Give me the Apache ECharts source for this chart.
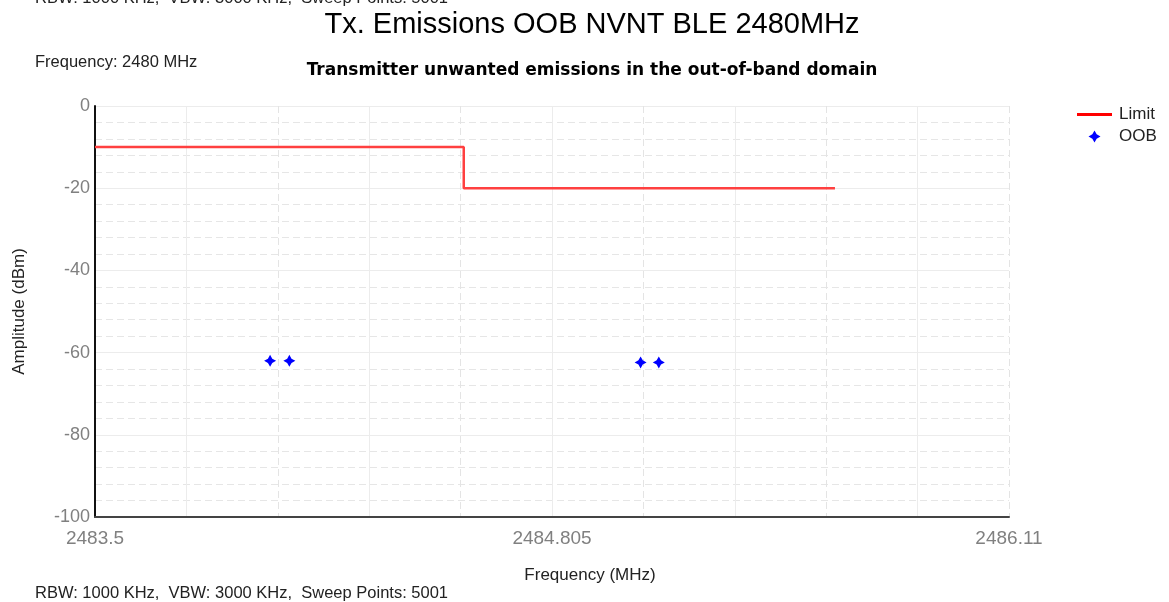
<!DOCTYPE html>
<html>
<head>
<meta charset="utf-8">
<script src="https://cdn.jsdelivr.net/npm/echarts@6/dist/echarts.min.js"></script>
<style>
html,body{margin:0;padding:0;background:#fff;}
#chart{width:1169px;height:602px;}
</style>
</head>
<body>
<div id="chart"></div>
<script>
// ---- data ----
var xStart = 2483.5;           // MHz, left end of the axis
var xEnd = 2486.11;            // MHz, right end of the axis
var xTickLabels = [2483.5, 2484.805, 2486.11];
var yTickLabels = [0, -20, -40, -60, -80, -100];

var limitFreq = [2483.5, 2484.553, 2484.553, 2485.613];
var limitValue = [-10, -10, -20, -20];

var oobFreq = [2484.000, 2484.055, 2485.058, 2485.110];
var oobValue = [-62.0, -62.0, -62.4, -62.4];

// ---- build ----
var span = +(xEnd - xStart).toFixed(3);      // 2.61
var limitData = limitFreq.map(function (f, i) { return [+(f - xStart).toFixed(4), limitValue[i]]; });
var oobData = oobFreq.map(function (f, i) { return [+(f - xStart).toFixed(4), oobValue[i]]; });

var FONT = 'Liberation Sans, Arial, sans-serif';
var star = 'path://M0,-10 L3.6,-3.6 L10,0 L3.6,3.6 L0,10 L-3.6,3.6 L-10,0 L-3.6,-3.6 Z';
var lineIcon = 'path://M0,0 L35,0 L35,3 L0,3 Z';

var chart = echarts.init(document.getElementById('chart'), null, { renderer: 'canvas' });
var option = {
  backgroundColor: '#ffffff',
  animation: false,
  grid: { left: 95, top: 106, width: 914, height: 411, containLabel: false },
  graphic: [
    { type: 'text', x: 35, y: -2, style: { text: 'RBW: 1000 KHz,  VBW: 3000 KHz,  Sweep Points: 5001', font: '16.5px ' + FONT, fill: '#222', textAlign: 'left', textVerticalAlign: 'middle' } },
    { type: 'text', x: 592, y: 25, style: { text: 'Tx. Emissions OOB NVNT BLE 2480MHz', font: '29px ' + FONT, fill: '#000', textAlign: 'center', textVerticalAlign: 'middle' } },
    { type: 'text', x: 35, y: 62, style: { text: 'Frequency: 2480 MHz', font: '16.5px ' + FONT, fill: '#222', textAlign: 'left', textVerticalAlign: 'middle' } },
    { type: 'text', x: 592, y: 71, style: { text: 'Transmitter unwanted emissions in the out-of-band domain', font: 'bold 17px DejaVu Sans, Verdana, sans-serif', fill: '#000', textAlign: 'center', textVerticalAlign: 'middle' } },
    { type: 'text', x: 590, y: 575, style: { text: 'Frequency (MHz)', font: '17px ' + FONT, fill: '#222', textAlign: 'center', textVerticalAlign: 'middle' } },
    { type: 'text', x: 35, y: 593, style: { text: 'RBW: 1000 KHz,  VBW: 3000 KHz,  Sweep Points: 5001', font: '16.5px ' + FONT, fill: '#222', textAlign: 'left', textVerticalAlign: 'middle' } }
  ],
  legend: {
    orient: 'vertical',
    left: 1077,
    top: 106,
    padding: 0,
    itemWidth: 35,
    itemHeight: 12,
    itemGap: 5,
    symbolKeepAspect: true,
    textStyle: { fontSize: 17, fontFamily: FONT, color: '#222', padding: [0, 0, 0, 2] },
    data: [{ name: 'Limit', icon: lineIcon }, { name: 'OOB' }]
  },
  xAxis: [
    {
      type: 'value', min: 0, max: span, interval: span / 5,
      axisLine: { show: false }, axisTick: { show: false }, axisLabel: { show: false },
      splitLine: { show: true, lineStyle: { color: '#e4e4e4', type: [7, 4], width: 1 } },
      minorTick: { show: false, splitNumber: 2 },
      minorSplitLine: { show: true, lineStyle: { color: '#ececec', width: 1 } }
    },
    {
      type: 'value', position: 'bottom', min: 0, max: span, interval: span / 2,
      axisLine: { show: true, onZero: false, lineStyle: { color: '#444', width: 2 } },
      axisTick: { show: false },
      splitLine: { show: false },
      axisLabel: {
        show: true, margin: 12, fontSize: 19, fontFamily: FONT, color: '#808080',
        formatter: function (v) {
          var i = Math.round(v / (span / 2));
          return String(xTickLabels[i]);
        }
      }
    }
  ],
  yAxis: {
    type: 'value', min: -100, max: 0, interval: 20,
    axisLine: { show: true, onZero: false, lineStyle: { color: '#111', width: 2 } },
    axisTick: { show: false },
    axisLabel: {
      margin: 5, fontSize: 18, fontFamily: FONT, color: '#808080',
      formatter: function (v) { return String(yTickLabels[Math.round(-v / 20)]); }
    },
    splitLine: { show: true, lineStyle: { color: '#ececec', width: 1 } },
    minorTick: { show: false, splitNumber: 5 },
    minorSplitLine: { show: true, lineStyle: { color: '#e6e6e6', type: [7, 4], width: 1 } },
    name: 'Amplitude (dBm)', nameLocation: 'middle', nameGap: 67,
    nameTextStyle: { fontSize: 17, fontFamily: FONT, color: '#222' }
  },
  series: [
    {
      name: 'Limit', type: 'line', xAxisIndex: 0, data: limitData,
      symbol: 'none', lineStyle: { color: '#ff4040', width: 2.5 },
      itemStyle: { color: '#ff0000' }, z: 3
    },
    {
      name: 'OOB', type: 'scatter', xAxisIndex: 0, data: oobData,
      symbol: star, symbolSize: 12,
      itemStyle: { color: '#0000ff', opacity: 1 }, z: 4
    }
  ]
};
chart.setOption(option);
</script>
</body>
</html>
